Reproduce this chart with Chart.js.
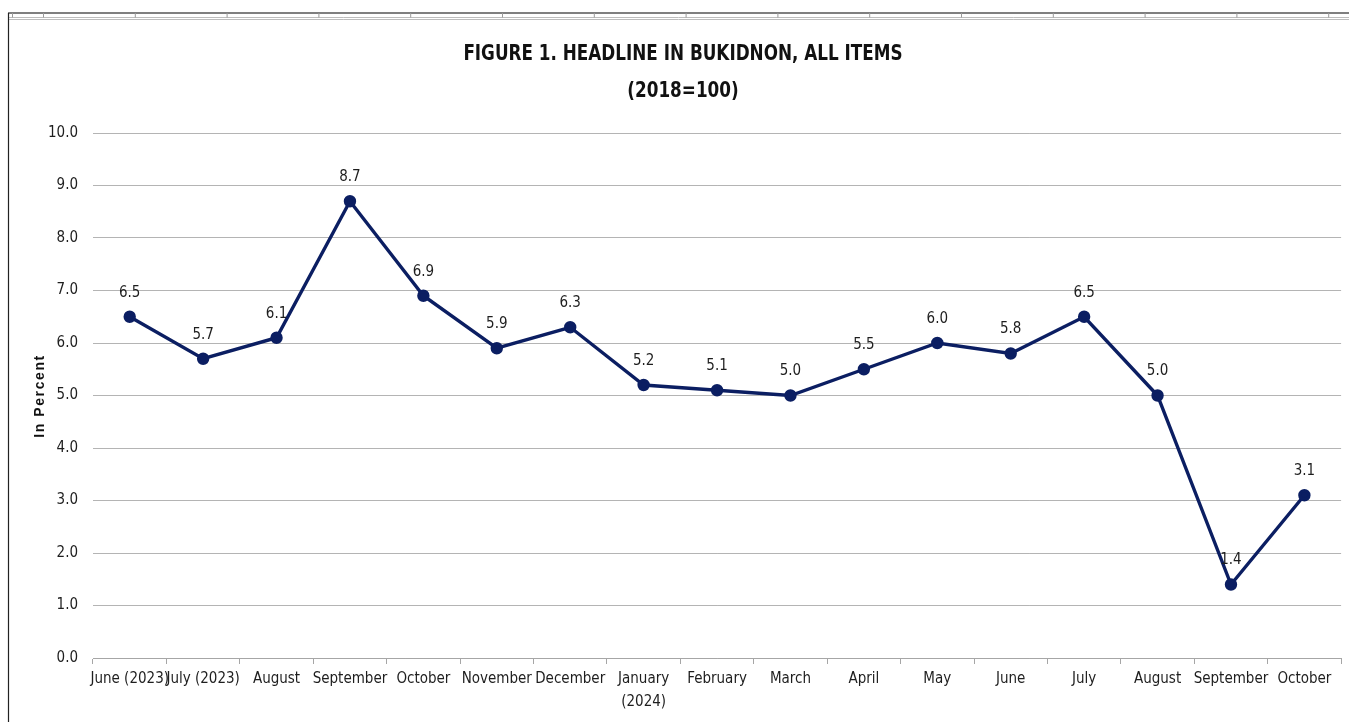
<!DOCTYPE html>
<html>
<head>
<meta charset="utf-8">
<script src="https://cdn.jsdelivr.net/npm/chart.js@4.4.1/dist/chart.umd.min.js"></script>
<style>
html,body{margin:0;padding:0;background:#fff;overflow:hidden;}
#wrap{position:absolute;left:0;top:0;width:1349px;height:722px;}
</style>
</head>
<body>
<div id="wrap"><canvas id="c" width="1349" height="722"></canvas></div>
<script>
const categories = [["June (2023)"],["July (2023)"],["August"],["September"],["October"],["November"],["December"],["January","(2024)"],["February"],["March"],["April"],["May"],["June"],["July"],["August"],["September"],["October"]];
const headline = [6.5,5.7,6.1,8.7,6.9,5.9,6.3,5.2,5.1,5.0,5.5,6.0,5.8,6.5,5.0,1.4,3.1];
const titleLines = ["FIGURE 1. HEADLINE IN BUKIDNON, ALL ITEMS","(2018=100)"];
const yTitle = "In Percent";

const FONT = "'Liberation Sans Narrow','DejaVu Sans Condensed','Liberation Sans',sans-serif";
const TXT = '#1e1e1e';
const LINE = '#0b1e62';

const frame = {
  id:'frame',
  beforeDraw(chart){
    const ctx = chart.ctx;
    ctx.save();
    ctx.fillStyle='#fff';
    ctx.fillRect(0,0,chart.width,chart.height);
    ctx.strokeStyle='#555'; ctx.lineWidth=1.5;
    ctx.beginPath(); ctx.moveTo(8,13); ctx.lineTo(1349,13); ctx.stroke();
    ctx.strokeStyle='#bdbdbd'; ctx.lineWidth=1;
    ctx.beginPath(); ctx.moveTo(8,17.5); ctx.lineTo(1349,17.5); ctx.moveTo(8,19.5); ctx.lineTo(1349,19.5); ctx.stroke();
    ctx.strokeStyle='#9a9a9a';
    ctx.beginPath();
    const xs=[12.5]; let x0=43.5; while(x0<1349){xs.push(x0); x0+=91.8;}
    xs.forEach(x=>{ctx.moveTo(x,13); ctx.lineTo(x,17.5);});
    ctx.stroke();
    ctx.strokeStyle='#222'; ctx.lineWidth=1.2;
    ctx.beginPath(); ctx.moveTo(8.5,13); ctx.lineTo(8.5,722); ctx.stroke();
    ctx.fillStyle='#111';
    ctx.font="bold 21px "+FONT;
    ctx.textAlign='center'; ctx.textBaseline='middle';
    ctx.save(); ctx.translate(683,55); ctx.scale(0.89,1); ctx.fillText(titleLines[0],0,0); ctx.restore();
    ctx.save(); ctx.translate(683,92); ctx.scale(0.89,1); ctx.fillText(titleLines[1],0,0); ctx.restore();
    ctx.translate(40,396); ctx.rotate(-Math.PI/2);
    ctx.font="bold 14px 'Liberation Sans',Arial,sans-serif";
    ctx.letterSpacing='1.6px';
    ctx.fillText(yTitle,0,0);
    ctx.restore();
  }
};

const labels = {
  id:'vlabels',
  afterDatasetsDraw(chart){
    const ctx=chart.ctx; const meta=chart.getDatasetMeta(0);
    ctx.save();
    ctx.font="15px "+FONT; ctx.fillStyle=TXT; ctx.textAlign='center'; ctx.textBaseline='middle';
    meta.data.forEach((p,i)=>{ ctx.fillText(headline[i].toFixed(1), p.x, p.y-24); });
    ctx.restore();
  }
};

new Chart(document.getElementById('c'),{
  type:'line',
  data:{labels:categories,datasets:[{data:headline,borderColor:LINE,backgroundColor:LINE,borderWidth:3.4,pointRadius:4.5,pointHoverRadius:4.5,pointBackgroundColor:LINE,pointBorderColor:LINE,tension:0,clip:false}]},
  options:{
    responsive:false,animation:false,devicePixelRatio:1,
    layout:{padding:{left:30,top:133,right:7,bottom:0}},
    plugins:{legend:{display:false},title:{display:false},tooltip:{enabled:false}},
    scales:{
      x:{
        offset:true,
        grid:{offset:true,drawOnChartArea:false,drawTicks:true,tickLength:6,color:'#a6a6a6'},
        border:{display:true,color:'#a6a6a6',width:1},
        ticks:{color:TXT,font:{family:FONT,size:15,lineHeight:1.5},padding:4,maxRotation:0,autoSkip:false},
        afterFit(s){s.height=64;}
      },
      y:{
        min:0,max:10,
        grid:{color:'#b4b4b4',lineWidth:1,drawTicks:false},
        border:{display:false},
        ticks:{stepSize:1,color:TXT,font:{family:FONT,size:15},padding:15,callback:v=>Number(v).toFixed(1)},
        afterFit(s){s.width=63;}
      }
    }
  },
  plugins:[frame,labels]
});
</script>
</body>
</html>
